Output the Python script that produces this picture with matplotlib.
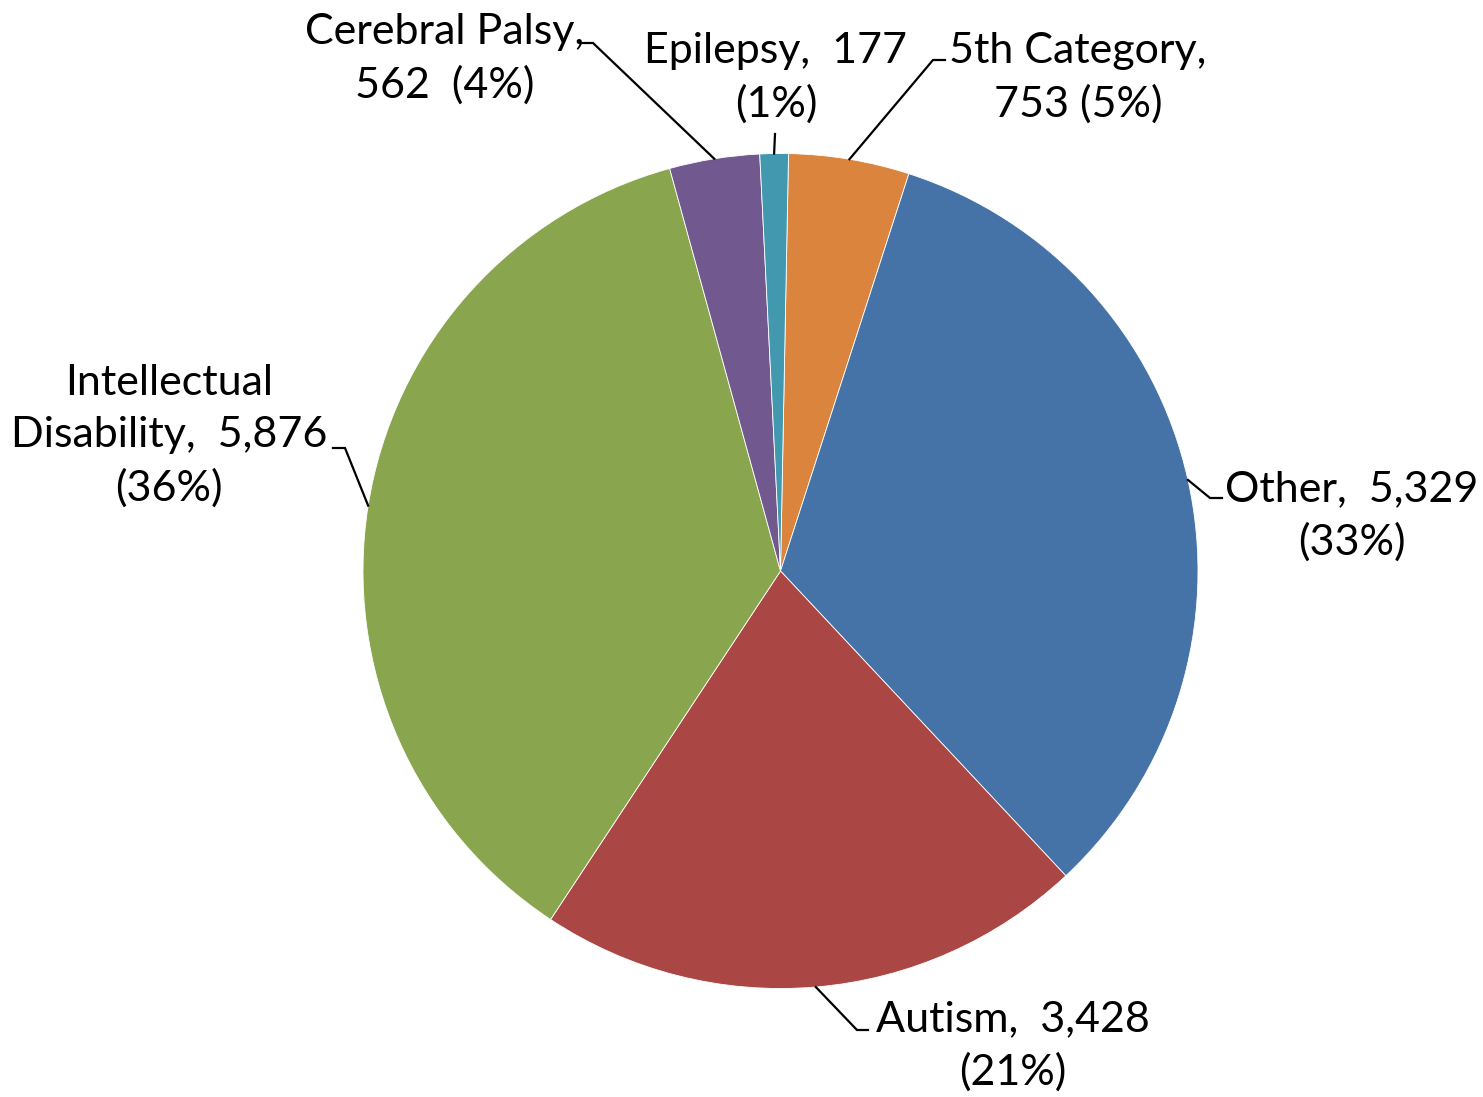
import numpy as np
import matplotlib
matplotlib.use("Agg")
import matplotlib.pyplot as plt

categories = ["5th Category", "Other", "Autism", "Intellectual Disability", "Cerebral Palsy", "Epilepsy"]
values = [753, 5329, 3428, 5876, 562, 177]
label_texts = ["5th Category,\n753 (5%)", "Other,  5,329\n(33%)", "Autism,  3,428\n(21%)",
               "Intellectual\nDisability,  5,876\n(36%)", "Cerebral Palsy,\n562  (4%)", "Epilepsy,  177\n(1%)"]
colors = ["#DB843D", "#4572A7", "#AA4643", "#89A54E", "#71588F", "#4198AF"]

W, H = 1483, 1097
fig = plt.figure(figsize=(W / 100, H / 100), dpi=100)
cx, cy, R = 780.5, 571, 417.5
ax = fig.add_axes([(cx - R) / W, (H - cy - R) / H, 2 * R / W, 2 * R / H])

start = 88.9
wedges, _ = ax.pie(values, colors=colors, startangle=start, counterclock=False, radius=1.0,
                   wedgeprops=dict(edgecolor="white", linewidth=0.6))
ax.set_xlim(-1, 1)
ax.set_ylim(-1, 1)
ax.set_aspect("equal")
ax.axis("off")

def px(x, y):
    return ((x - cx) / R, (cy - y) / R)

# layout: text centers and leader elbow / end points (pixels)
text_pos = [(1078, 78), (1352, 516), (1013, 1046), (169, 436), (445, 59), (776, 78)]
elbows = [((933, 60), (945, 60)), ((1210, 498), (1222, 498)), ((857, 1030), (868, 1030)),
          ((345, 448), (333, 448)), ((593, 43), (582, 43)), ((775, 134), (775, 134))]

font = ["Lato", "DejaVu Sans"]
total = sum(values)
cum = 0
for i, v in enumerate(values):
    mid = np.deg2rad(start - 360 * (cum + v / 2) / total)
    cum += v
    ax_, ay_ = np.cos(mid), np.sin(mid)
    e1 = px(*elbows[i][0])
    e2 = px(*elbows[i][1])
    ax.plot([ax_, e1[0], e2[0]], [ay_, e1[1], e2[1]], color="black", lw=1.6, clip_on=False,
            solid_joinstyle="miter")
    tx, ty = px(*text_pos[i])
    ax.text(tx, ty, label_texts[i], ha="center", va="center", ma="center", fontsize=31,
            family=font, color="black", linespacing=1.45, clip_on=False)

fig.savefig("out.png", dpi=100, facecolor="white")
